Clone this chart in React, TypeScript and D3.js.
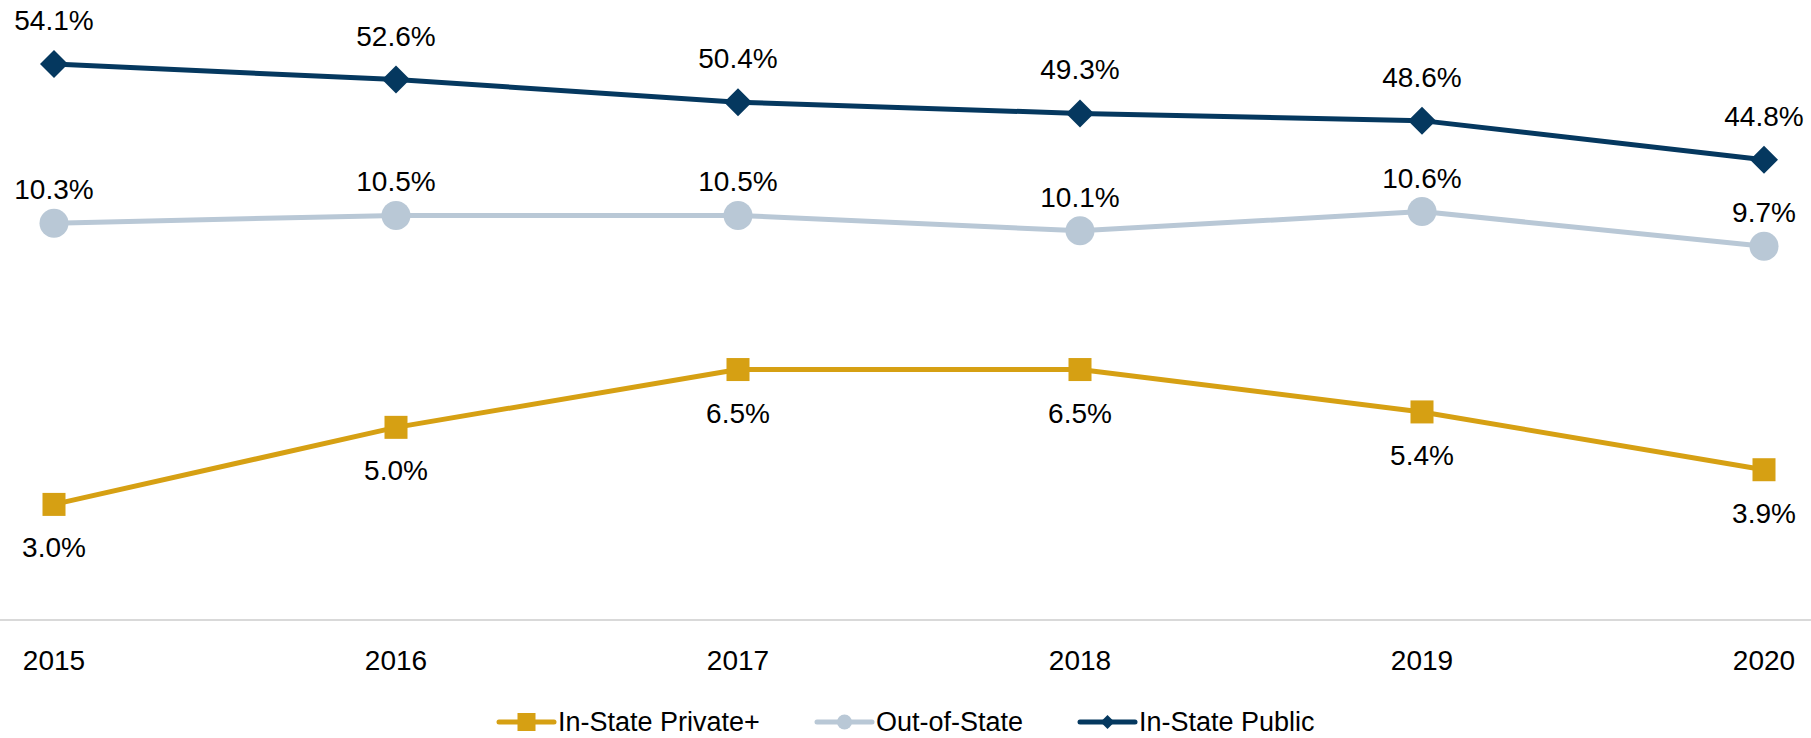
import * as d3 from 'd3';

const years = ['2015', '2016', '2017', '2018', '2019', '2020'];
const inStatePrivate = [3.0, 5.0, 6.5, 6.5, 5.4, 3.9];
const outOfState = [10.3, 10.5, 10.5, 10.1, 10.6, 9.7];
const inStatePublic = [54.1, 52.6, 50.4, 49.3, 48.6, 44.8];

const W = 1811;
const H = 738;
const FONT = '"Liberation Sans", Arial, sans-serif';

type Series = {
  name: string;
  values: number[];
  color: string;
  marker: 'square' | 'circle' | 'diamond';
  axis: 'left' | 'right';
  labelDy: number;
};

const series: Series[] = [
  { name: 'In-State Private+', values: inStatePrivate, color: '#d6a013', marker: 'square', axis: 'left', labelDy: 53 },
  { name: 'Out-of-State', values: outOfState, color: '#b9c8d6', marker: 'circle', axis: 'left', labelDy: -24 },
  { name: 'In-State Public', values: inStatePublic, color: '#05385f', marker: 'diamond', axis: 'right', labelDy: -34 },
];

function Marker({ kind, x, y, size, color }: { kind: Series['marker']; x: number; y: number; size: number; color: string }) {
  if (kind === 'square') return <rect x={x - size / 2} y={y - size / 2} width={size} height={size} fill={color} />;
  if (kind === 'circle') return <circle cx={x} cy={y} r={size / 2} fill={color} />;
  const h = size / 2;
  return <path d={`M${x},${y - h}L${x + h},${y}L${x},${y + h}L${x - h},${y}Z`} fill={color} />;
}

export default function App() {
  const x = d3.scalePoint<string>().domain(years).range([54, 1764]);
  // primary axis for the two small series, secondary axis for In-State Public
  const yLeft = d3.scaleLinear().domain([0, 16]).range([620, 3.5]);
  const yRight = d3.scaleLinear().domain([0, 60]).range([620, 3.5]);
  const baseY = yLeft(0);

  const markerSize = { square: 23, circle: 29, diamond: 28 } as const;
  const legendMarker = { square: 18, circle: 15, diamond: 14 } as const;

  // legend item starting positions (line start)
  const legendX = [499, 817, 1080];

  return (
    <svg width={W} height={H} style={{ position: 'absolute', left: 0, top: 0, background: '#fff' }} fontFamily={FONT}>
      <line x1={0} x2={W} y1={baseY} y2={baseY} stroke="#d9d9d9" strokeWidth={2} />
      {years.map(yr => (
        <text key={yr} x={x(yr)} y={670} textAnchor="middle" fontSize={28} fill="#000">{yr}</text>
      ))}

      {series.map(s => {
        const y = s.axis === 'left' ? yLeft : yRight;
        const line = d3.line<number>()
          .x((_, i) => x(years[i])!)
          .y(d => y(d));
        return (
          <g key={s.name}>
            <path d={line(s.values)!} fill="none" stroke={s.color} strokeWidth={5} strokeLinejoin="round" />
            {s.values.map((v, i) => (
              <Marker key={i} kind={s.marker} x={x(years[i])!} y={y(v)} size={markerSize[s.marker]} color={s.color} />
            ))}
            {s.values.map((v, i) => (
              <text key={'t' + i} x={x(years[i])!} y={y(v) + s.labelDy} textAnchor="middle" fontSize={28} fill="#000">
                {v.toFixed(1)}%
              </text>
            ))}
          </g>
        );
      })}

      {series.map((s, i) => (
        <g key={'lg' + s.name} transform={`translate(${legendX[i]},722)`}>
          <line x1={0} x2={55} y1={0} y2={0} stroke={s.color} strokeWidth={5} strokeLinecap="round" />
          <Marker kind={s.marker} x={27.5} y={0} size={legendMarker[s.marker]} color={s.color} />
          <text x={59} y={9} fontSize={27} fill="#000">{s.name}</text>
        </g>
      ))}
    </svg>
  );
}
